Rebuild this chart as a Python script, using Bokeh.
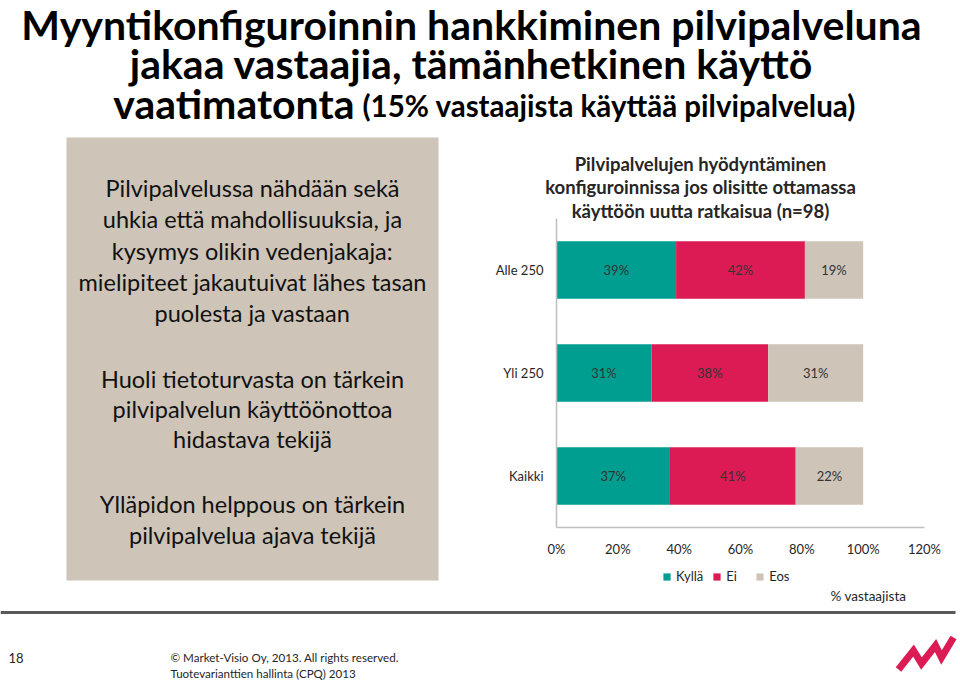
from bokeh.plotting import figure
from bokeh.models import (Range1d, LinearAxis, FixedTicker, ColumnDataSource,
                          Legend, LegendItem, PrintfTickFormatter)
from bokeh.core.properties import value
from bokeh.embed import file_html
from bokeh.resources import INLINE

# ---------------- data ----------------
categories = ["Alle 250", "Yli 250", "Kaikki"]
kylla = [39, 31, 37]
ei = [42, 38, 41]
eos = [19, 31, 22]
series_names = ["Kyllä", "Ei", "Eos"]
x_ticks = [0, 20, 40, 60, 80, 100, 120]

title_lines = ["Myyntikonfiguroinnin hankkiminen pilvipalveluna",
               "jakaa vastaajia, tämänhetkinen käyttö"]
title_line3_big = "vaatimatonta"
title_line3_small = "(15% vastaajista käyttää pilvipalvelua)"
chart_title_lines = ["Pilvipalvelujen hyödyntäminen",
                     "konfiguroinnissa jos olisitte ottamassa",
                     "käyttöön uutta ratkaisua (n=98)"]
box_lines = [["Pilvipalvelussa nähdään sekä",
              "uhkia että mahdollisuuksia, ja",
              "kysymys olikin vedenjakaja:",
              "mielipiteet jakautuivat lähes tasan",
              "puolesta ja vastaan"],
             ["Huoli tietoturvasta on tärkein",
              "pilvipalvelun käyttöönottoa",
              "hidastava tekijä"],
             ["Ylläpidon helppous on tärkein",
              "pilvipalvelua ajava tekijä"]]
axis_caption = "% vastaajista"
page_number = "18"
footer_lines = ["© Market-Visio Oy, 2013. All rights reserved.",
                "Tuotevarianttien hallinta (CPQ) 2013"]

# ---------------- layout / style ----------------
W, H = 960, 680
PA_L, PA_R, PA_T, PA_B = 556, 924, 218, 527   # plot area in page pixels
X_MAX = 120
FONT = "Lato"
TEAL, RED, BEIGE = "#009e90", "#dc1b55", "#cec4b8"
colors = [TEAL, RED, BEIGE]
DARK = "#262626"

px_per_pct = (PA_R - PA_L) / X_MAX
n = len(categories)
px_per_cat = (PA_B - PA_T) / n

p = figure(width=W, height=H, x_range=Range1d(0, W), y_range=Range1d(H, 0),
           x_axis_type=None, y_axis_type=None, toolbar_location=None,
           output_backend="svg", min_border=0, outline_line_color=None,
           background_fill_color="white", border_fill_color="white")
p.extra_x_ranges = {"pct": Range1d(-PA_L / px_per_pct, (W - PA_L) / px_per_pct)}
p.extra_y_ranges = {"cat": Range1d(-0.5 + (H - PA_T) / px_per_cat,
                                   -0.5 - PA_T / px_per_cat)}

# ---------- main title ----------
p.text(x=[471, 471], y=[24, 63], text=title_lines, text_font=value(FONT),
       text_font_style="bold", text_font_size="41px", text_align="center",
       text_baseline="middle", text_color="black")
p.text(x=[354], y=[103], text=[title_line3_big], text_font=value(FONT),
       text_font_style="bold", text_font_size="41px", text_align="right",
       text_baseline="middle", text_color="black")
p.text(x=[362], y=[105], text=[title_line3_small], text_font=value(FONT),
       text_font_style="bold", text_font_size="29.5px", text_align="left",
       text_baseline="middle", text_color="black")

# ---------- left beige box ----------
p.quad(left=[66], right=[438], top=[137], bottom=[580], fill_color=BEIGE,
       line_color=None)
para_y = [[187, 218.5, 250, 281, 312], [378, 408, 438], [503, 534]]
for lines, ys_ in zip(box_lines, para_y):
    p.text(x=[252] * len(lines), y=ys_, text=lines, text_font=value(FONT),
           text_font_size="23.5px", text_align="center", text_baseline="middle",
           text_color="#111111")

# ---------- chart title ----------
p.text(x=[700] * 3, y=[163, 186.5, 210], text=chart_title_lines,
       text_font=value(FONT), text_font_style="bold", text_font_size="18.5px",
       text_align="center", text_baseline="middle", text_color=DARK)

# ---------- stacked bars ----------
ys = list(range(n))
series = [kylla, ei, eos]
cum = [0] * n
renderers = []
for name, vals, col in zip(series_names, series, colors):
    left = cum[:]
    right = [a + b for a, b in zip(cum, vals)]
    src = ColumnDataSource(dict(y=ys, left=left, right=right,
                                mid=[(a + b) / 2 for a, b in zip(left, right)],
                                lab=[f"{v}%" for v in vals]))
    r = p.hbar(y="y", left="left", right="right", height=0.56, source=src,
               fill_color=col, line_color=None,
               x_range_name="pct", y_range_name="cat")
    p.text(x="mid", y="y", text="lab", source=src, text_font=value(FONT),
           text_font_size="13px", text_align="center", text_baseline="middle",
           text_color="#333333", x_range_name="pct", y_range_name="cat")
    renderers.append(r)
    cum = right

# ---------- axes ----------
xaxis = LinearAxis(x_range_name="pct", ticker=FixedTicker(ticks=x_ticks),
                   formatter=PrintfTickFormatter(format="%d%%"),
                   bounds=(0, X_MAX), fixed_location=PA_B)
yaxis = LinearAxis(y_range_name="cat", ticker=FixedTicker(ticks=ys),
                   major_label_overrides={i: c for i, c in enumerate(categories)},
                   bounds=(-0.5, n - 0.5), fixed_location=PA_L)
for ax in (xaxis, yaxis):
    ax.axis_line_color = "#bfbfbf"
    ax.axis_line_width = 1.5
    ax.major_tick_line_color = None
    ax.minor_tick_line_color = None
    ax.major_tick_in = 0
    ax.major_tick_out = 0
    ax.major_label_text_font = FONT
    ax.major_label_text_font_size = "13px"
    ax.major_label_text_color = DARK
xaxis.major_label_standoff = 13
yaxis.major_label_standoff = 13
p.add_layout(xaxis, "below")
p.add_layout(yaxis, "left")

# ---------- legend ----------
legend = Legend(items=[LegendItem(label=nm, renderers=[r])
                       for nm, r in zip(series_names, renderers)],
                orientation="horizontal", location=(662, H - 586),
                glyph_width=9, glyph_height=9, label_standoff=5, spacing=9,
                padding=0, margin=0, border_line_color=None,
                background_fill_alpha=0, label_text_font=FONT,
                label_text_font_size="13px", label_text_color=DARK,
                label_height=20)
p.add_layout(legend, "center")

p.text(x=[830], y=[595], text=[axis_caption], text_font=value(FONT),
       text_font_size="13.5px", text_align="left", text_baseline="middle",
       text_color=DARK)

# ---------- footer ----------
p.line(x=[0, 955], y=[612, 612], line_color="#595959", line_width=3)
p.text(x=[8], y=[657], text=[page_number], text_font=value(FONT),
       text_font_size="13px", text_align="left", text_baseline="middle",
       text_color=DARK)
p.text(x=[170, 170], y=[657, 673], text=footer_lines, text_font=value(FONT),
       text_font_size="11.6px", text_align="left", text_baseline="middle",
       text_color=DARK)
p.line(x=[898, 913, 921, 935, 941, 953], y=[669, 650, 663, 645, 657, 637],
       line_color=RED, line_width=7, line_join="miter")

open("out.html", "w").write(file_html(p, INLINE))
